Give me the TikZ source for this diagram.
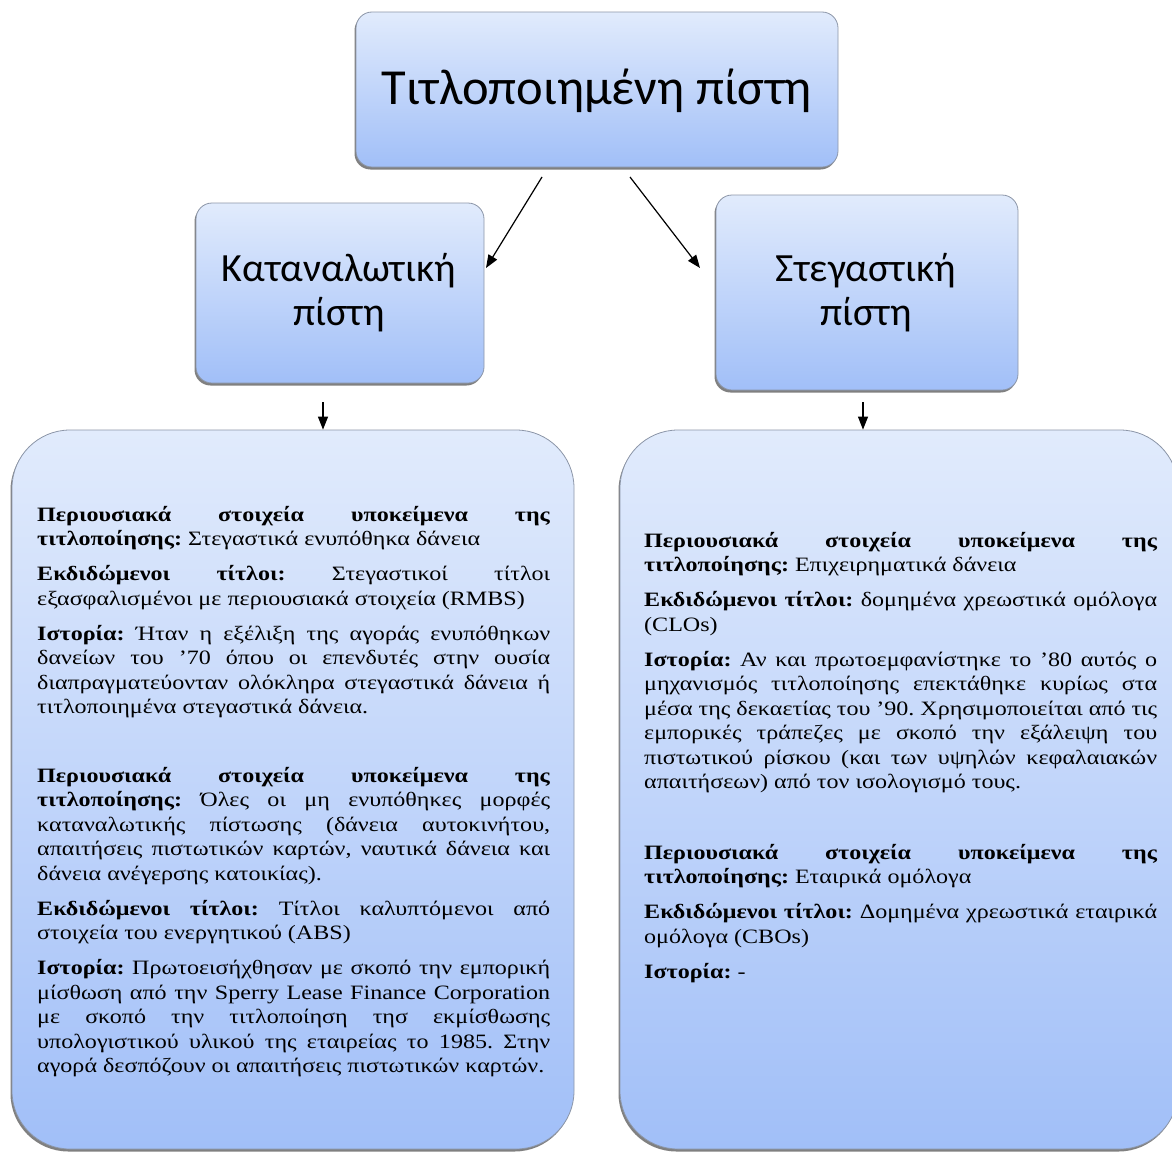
\documentclass[tikz,border=0pt]{standalone}
\usepackage{fontspec}
\setmainfont{Liberation Serif}[FakeStretch=1.18]
\newfontfamily\titlefont{Carlito}
\usetikzlibrary{arrows.meta,shadows}
\newcommand\JL[1]{\hbox to \hsize{#1}}
\newcommand\EL[1]{\hbox{#1}}
\newcommand\PG{\vskip 10.5pt}
\newcommand\BodyFont{\fontsize{20.4}{24.5}\selectfont\frenchspacing}
\definecolor{boxtop}{HTML}{E1EBFC}
\definecolor{boxbot}{HTML}{A1BFF8}
\definecolor{boxline}{HTML}{8C96A8}
\tikzset{
  box/.style={draw=boxline, line width=0.8pt, top color=boxtop, bottom color=boxbot,
    drop shadow={shadow xshift=-1.5pt, shadow yshift=-2.5pt, fill=black!55, opacity=0.9},
    inner sep=0pt},
  smallbox/.style={box, rounded corners=16pt},
  bigbox/.style={box, rounded corners=58pt},
  ttl/.style={font=\titlefont\fontsize{50.5}{56}\selectfont, text=black},
  midttl/.style={font=\titlefont\fontsize{40}{44}\selectfont, align=center, text=black},
  txt/.style={inner sep=0pt, anchor=north west},
  arr/.style={line width=1.2pt, -{Triangle[length=13pt,width=10pt]}}
}
\begin{document}
\begin{tikzpicture}[x=1pt,y=1pt]
\useasboundingbox (0,0) rectangle (1172,-1151);
\fill[white] (0,0) rectangle (1172,-1151);

% boxes
\node[smallbox, minimum width=482, minimum height=155] (top) at (597,-89.5) {};
\node[ttl] (toptext) at (597,-91) {Τιτλοποιημένη πίστη};

\node[smallbox, minimum width=288, minimum height=180] (lm) at (340,-293) {};
\node[midttl] (lmtext) at (339,-293) {Καταναλωτική\\πίστη};

\node[smallbox, minimum width=302, minimum height=195] (rm) at (867,-292.5) {};
\node[midttl] (rmtext) at (866,-293) {Στεγαστική\\πίστη};

\node[bigbox, minimum width=562, minimum height=719] (lb) at (293,-789.5) {};
\node[bigbox, minimum width=558, minimum height=719] (rb) at (899,-789.5) {};

% connectors
\coordinate (a1s) at (542,-177);
\coordinate (a1e) at (486,-268);
\coordinate (a2s) at (630,-177);
\coordinate (a2e) at (700,-268);
\coordinate (a3s) at (323,-402);
\coordinate (a4s) at (863,-402);
\draw[arr] (a1s) -- (a1e);
\draw[arr] (a2s) -- (a2e);
\draw[arr] (a3s) -- (a3s |- lb.north);
\draw[arr] (a4s) -- (a4s |- rb.north);

% left texts
\node[txt] (ls1) at (37,-506) {\vbox{\hsize=513pt\BodyFont
\JL{\textbf{Περιουσιακά στοιχεία υποκείμενα της}}
\EL{\textbf{τιτλοποίησης:} Στεγαστικά ενυπόθηκα δάνεια}
\PG
\JL{\textbf{Εκδιδώμενοι τίτλοι:} Στεγαστικοί τίτλοι}
\EL{εξασφαλισμένοι με περιουσιακά στοιχεία (RMBS)}
\PG
\JL{\textbf{Ιστορία:} Ήταν η εξέλιξη της αγοράς ενυπόθηκων}
\JL{δανείων του '70 όπου οι επενδυτές στην ουσία}
\JL{διαπραγματεύονταν ολόκληρα στεγαστικά δάνεια ή}
\EL{τιτλοποιημένα στεγαστικά δάνεια.}
}};

\node[txt] (ls2) at (37,-767) {\vbox{\hsize=513pt\BodyFont
\JL{\textbf{Περιουσιακά στοιχεία υποκείμενα της}}
\JL{\textbf{τιτλοποίησης:} Όλες οι μη ενυπόθηκες μορφές}
\JL{καταναλωτικής πίστωσης (δάνεια αυτοκινήτου,}
\JL{απαιτήσεις πιστωτικών καρτών, ναυτικά δάνεια και}
\EL{δάνεια ανέγερσης κατοικίας).}
\PG
\JL{\textbf{Εκδιδώμενοι τίτλοι:} Τίτλοι καλυπτόμενοι από}
\EL{στοιχεία του ενεργητικού (ABS)}
\PG
\JL{\textbf{Ιστορία:} Πρωτοεισήχθησαν με σκοπό την εμπορική}
\JL{μίσθωση από την Sperry Lease Finance Corporation}
\JL{με σκοπό την τιτλοποίηση τησ εκμίσθωσης}
\JL{υπολογιστικού υλικού της εταιρείας το 1985. Στην}
\EL{αγορά δεσπόζουν οι απαιτήσεις πιστωτικών καρτών.}
}};

% right texts
\node[txt] (rs1) at (644,-532) {\vbox{\hsize=513pt\BodyFont
\JL{\textbf{Περιουσιακά στοιχεία υποκείμενα της}}
\EL{\textbf{τιτλοποίησης:} Επιχειρηματικά δάνεια}
\PG
\JL{\textbf{Εκδιδώμενοι τίτλοι:} δομημένα χρεωστικά ομόλογα}
\EL{(CLOs)}
\PG
\JL{\textbf{Ιστορία:} Αν και πρωτοεμφανίστηκε το '80 αυτός ο}
\JL{μηχανισμός τιτλοποίησης επεκτάθηκε κυρίως στα}
\JL{μέσα της δεκαετίας του '90. Χρησιμοποιείται από τις}
\JL{εμπορικές τράπεζες με σκοπό την εξάλειψη του}
\JL{πιστωτικού ρίσκου (και των υψηλών κεφαλαιακών}
\EL{απαιτήσεων) από τον ισολογισμό τους.}
}};

\node[txt] (rs2) at (644,-844) {\vbox{\hsize=513pt\BodyFont
\JL{\textbf{Περιουσιακά στοιχεία υποκείμενα της}}
\EL{\textbf{τιτλοποίησης:} Εταιρικά ομόλογα}
\PG
\JL{\textbf{Εκδιδώμενοι τίτλοι:} Δομημένα χρεωστικά εταιρικά}
\EL{ομόλογα (CBOs)}
\PG
\EL{\textbf{Ιστορία:} -}
}};
\end{tikzpicture}
\end{document}
